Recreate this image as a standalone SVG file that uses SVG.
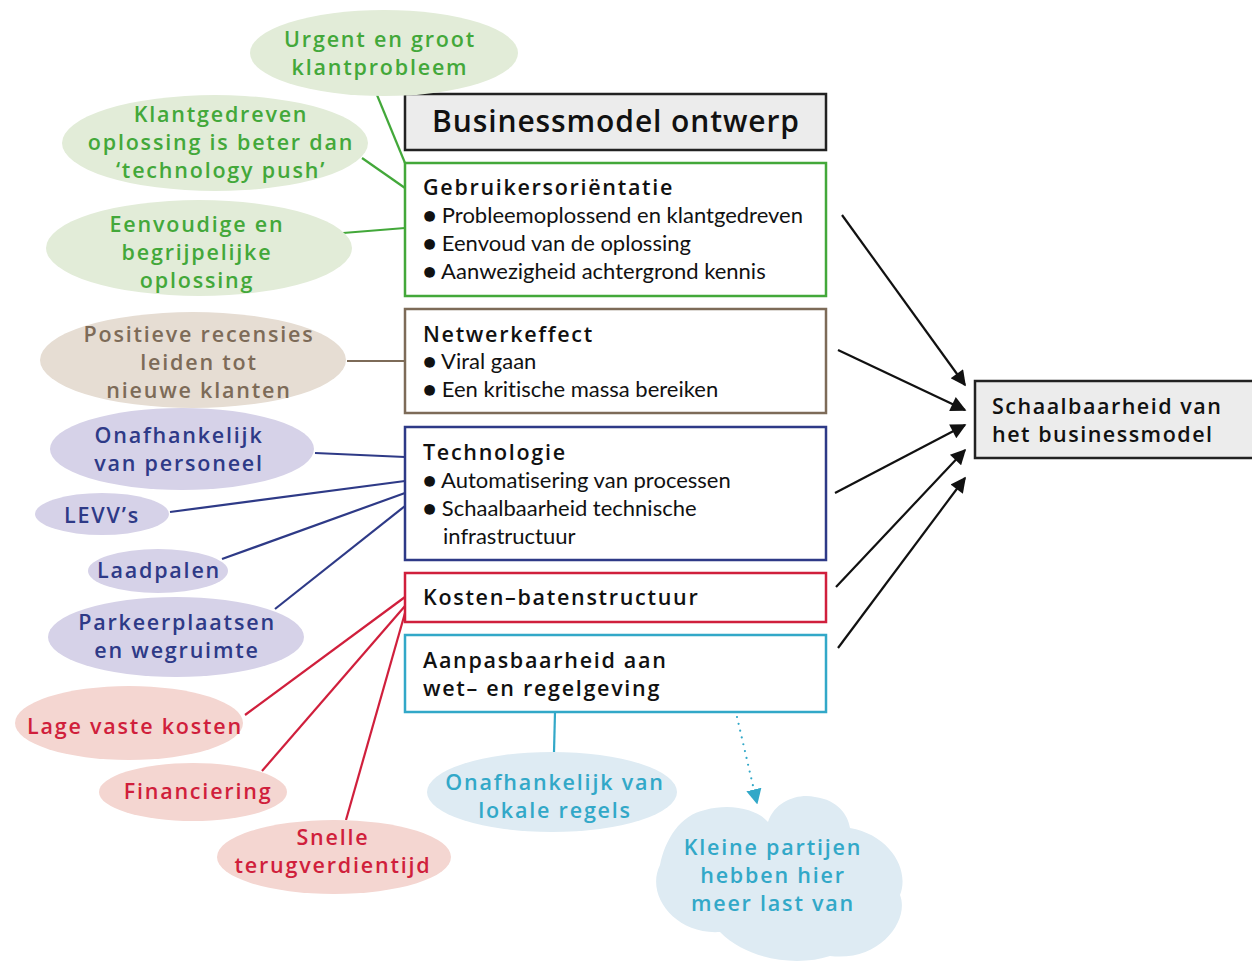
<svg xmlns="http://www.w3.org/2000/svg" width="1252" height="962" viewBox="0 0 1252 962">
<style>
  text { font-family: "Open Sans", "Lato", sans-serif; font-variant-ligatures: none; }
  .box { fill: #ffffff; stroke-width: 2.5; }
  .grey { fill: #ececec; stroke: #222222; stroke-width: 2.5; }
  .t { font-family: "Lato", "Open Sans", sans-serif; font-size: 22px; fill: #111111; }
  .tb { font-size: 21.5px; font-weight: 600; fill: #111111; letter-spacing: 1.7px; }
  .e { font-size: 21.5px; font-weight: 600; text-anchor: middle; letter-spacing: 1.8px; }
  .g { fill: #43a83a; } .ge { fill: #e2ecd8; }
  .b { fill: #7d6b58; } .be { fill: #e6ddd3; }
  .n { fill: #2e3a87; } .ne { fill: #d6d2e8; }
  .r { fill: #d01f3c; } .re { fill: #f4d6d1; }
  .c { fill: #32a8c8; } .ce { fill: #deebf3; }
  .lg { stroke: #43a83a; } .lb { stroke: #7d6b58; } .ln { stroke: #2e3a87; } .lr { stroke: #d01f3c; } .lc { stroke: #32a8c8; }
  #connectors line { stroke-width: 2.2; fill: none; }
  .arrow { stroke: #111111; marker-end: url(#ah); }
</style>
<defs>
  <marker id="ah" viewBox="0 0 10 10" refX="9" refY="5" markerWidth="8" markerHeight="7" markerUnits="strokeWidth" orient="auto">
    <path d="M0,0 L10,5 L0,10 z" fill="#111111"/>
  </marker>
  <marker id="ahc" viewBox="0 0 10 10" refX="9" refY="5" markerWidth="7" markerHeight="7" markerUnits="strokeWidth" orient="auto">
    <path d="M0,0 L10,5 L0,10 z" fill="#32a8c8"/>
  </marker>
</defs>
<rect width="1252" height="962" fill="#ffffff"/>

<g id="connectors">
  <line class="lg" x1="377" y1="95" x2="405" y2="163"/>
  <line class="lg" x1="362" y1="158" x2="405" y2="188"/>
  <line class="lg" x1="343" y1="233" x2="405" y2="228"/>
  <line class="lb" x1="347" y1="361" x2="405" y2="361"/>
  <line class="ln" x1="315" y1="453" x2="405" y2="457"/>
  <line class="ln" x1="170" y1="512" x2="405" y2="481"/>
  <line class="ln" x1="222" y1="559" x2="405" y2="493"/>
  <line class="ln" x1="275" y1="609" x2="405" y2="506"/>
  <line class="lr" x1="245" y1="715" x2="405" y2="597"/>
  <line class="lr" x1="262" y1="771" x2="405" y2="606"/>
  <line class="lr" x1="346" y1="820" x2="405" y2="613"/>
  <line class="lc" x1="555" y1="712" x2="554" y2="752"/>
  <line x1="737" y1="717" x2="757" y2="803" stroke="#32a8c8" stroke-width="2.5" stroke-linecap="round" stroke-dasharray="0 7" marker-end="url(#ahc)"/>
  <line class="arrow" x1="842" y1="215" x2="965" y2="385"/>
  <line class="arrow" x1="838" y1="350" x2="965" y2="410"/>
  <line class="arrow" x1="835" y1="493" x2="965" y2="425"/>
  <line class="arrow" x1="836" y1="587" x2="965" y2="450"/>
  <line class="arrow" x1="838" y1="648" x2="965" y2="478"/>
</g>

<g id="bm-ontwerp">
  <rect class="grey" x="405" y="94" width="421" height="56"/>
  <text x="616" y="132" text-anchor="middle" style="font-size:30px;font-weight:600;fill:#111;letter-spacing:0.9px">Businessmodel ontwerp</text>
</g>

<g id="gebruikers">
  <rect class="box lg" x="405" y="163" width="421" height="133"/>
  <text class="tb" x="423" y="195">Gebruikersoriëntatie</text>
  <text class="t" x="423" y="223">● Probleemoplossend en klantgedreven</text>
  <text class="t" x="423" y="251">● Eenvoud van de oplossing</text>
  <text class="t" x="423" y="279">● Aanwezigheid achtergrond kennis</text>
</g>

<g id="netwerk">
  <rect class="box lb" x="405" y="309" width="421" height="104"/>
  <text class="tb" x="423" y="342">Netwerkeffect</text>
  <text class="t" x="423" y="369">● Viral gaan</text>
  <text class="t" x="423" y="397">● Een kritische massa bereiken</text>
</g>

<g id="technologie">
  <rect class="box ln" x="405" y="427" width="421" height="133"/>
  <text class="tb" x="423" y="460">Technologie</text>
  <text class="t" x="423" y="488">● Automatisering van processen</text>
  <text class="t" x="423" y="516">● Schaalbaarheid technische</text>
  <text class="t" x="443" y="544">infrastructuur</text>
</g>

<g id="kosten">
  <rect class="box lr" x="405" y="573" width="421" height="49"/>
  <text class="tb" x="423" y="605">Kosten–batenstructuur</text>
</g>

<g id="aanpas">
  <rect class="box lc" x="405" y="635" width="421" height="77"/>
  <text class="tb" x="423" y="668">Aanpasbaarheid aan</text>
  <text class="tb" x="423" y="696">wet– en regelgeving</text>
</g>

<g id="schaalbaarheid">
  <rect class="grey" x="975" y="381" width="285" height="77"/>
  <text class="tb" x="992" y="414" style="letter-spacing:1.5px">Schaalbaarheid van</text>
  <text class="tb" x="992" y="442" style="letter-spacing:1.5px">het businessmodel</text>
</g>

<g id="urgent">
  <ellipse class="ge" cx="384" cy="53" rx="134" ry="43"/>
  <text class="e g" x="380" y="47">Urgent en groot</text>
  <text class="e g" x="380" y="75">klantprobleem</text>
</g>

<g id="klantgedreven">
  <ellipse class="ge" cx="215" cy="143" rx="153" ry="48"/>
  <text class="e g" x="221" y="122">Klantgedreven</text>
  <text class="e g" x="221" y="150">oplossing is beter dan</text>
  <text class="e g" x="221" y="178">‘technology push’</text>
</g>

<g id="eenvoudige">
  <ellipse class="ge" cx="199" cy="248" rx="153" ry="48"/>
  <text class="e g" x="197" y="232">Eenvoudige en</text>
  <text class="e g" x="197" y="260">begrijpelijke</text>
  <text class="e g" x="197" y="288">oplossing</text>
</g>

<g id="positieve">
  <ellipse class="be" cx="193" cy="360" rx="153" ry="48"/>
  <text class="e b" x="199" y="342">Positieve recensies</text>
  <text class="e b" x="199" y="370">leiden tot</text>
  <text class="e b" x="199" y="398">nieuwe klanten</text>
</g>

<g id="onafh-personeel">
  <ellipse class="ne" cx="182" cy="449" rx="132" ry="41"/>
  <text class="e n" x="179" y="443">Onafhankelijk</text>
  <text class="e n" x="179" y="471">van personeel</text>
</g>

<g id="levv">
  <ellipse class="ne" cx="102" cy="514" rx="67" ry="21"/>
  <text class="e n" x="102" y="523">LEVV’s</text>
</g>

<g id="laadpalen">
  <ellipse class="ne" cx="158" cy="571" rx="70" ry="22"/>
  <text class="e n" x="159" y="578">Laadpalen</text>
</g>

<g id="parkeer">
  <ellipse class="ne" cx="176" cy="637" rx="128" ry="40"/>
  <text class="e n" x="177" y="630">Parkeerplaatsen</text>
  <text class="e n" x="177" y="658">en wegruimte</text>
</g>

<g id="lage">
  <ellipse class="re" cx="129" cy="723" rx="114" ry="37"/>
  <text class="e r" x="135" y="734">Lage vaste kosten</text>
</g>

<g id="financiering">
  <ellipse class="re" cx="193" cy="792" rx="94" ry="29"/>
  <text class="e r" x="198" y="799">Financiering</text>
</g>

<g id="snelle">
  <ellipse class="re" cx="334" cy="857" rx="117" ry="37"/>
  <text class="e r" x="333" y="845">Snelle</text>
  <text class="e r" x="333" y="873">terugverdientijd</text>
</g>

<g id="onafh-lokaal">
  <ellipse class="ce" cx="552" cy="792" rx="125" ry="40"/>
  <text class="e c" x="555" y="790">Onafhankelijk van</text>
  <text class="e c" x="555" y="818">lokale regels</text>
</g>

<g id="kleine">
  <path class="ce" d="M 720 932 C 675 935 645 895 660 865 C 665 840 680 815 705 810 C 735 802 760 812 768 822 C 775 800 800 793 815 797 C 838 800 848 815 850 828 C 890 835 910 870 900 895 C 910 920 880 962 830 956 C 800 966 750 962 720 932 Z"/>
  <text class="e c" x="773" y="855">Kleine partijen</text>
  <text class="e c" x="773" y="883">hebben hier</text>
  <text class="e c" x="773" y="911">meer last van</text>
</g>
</svg>
